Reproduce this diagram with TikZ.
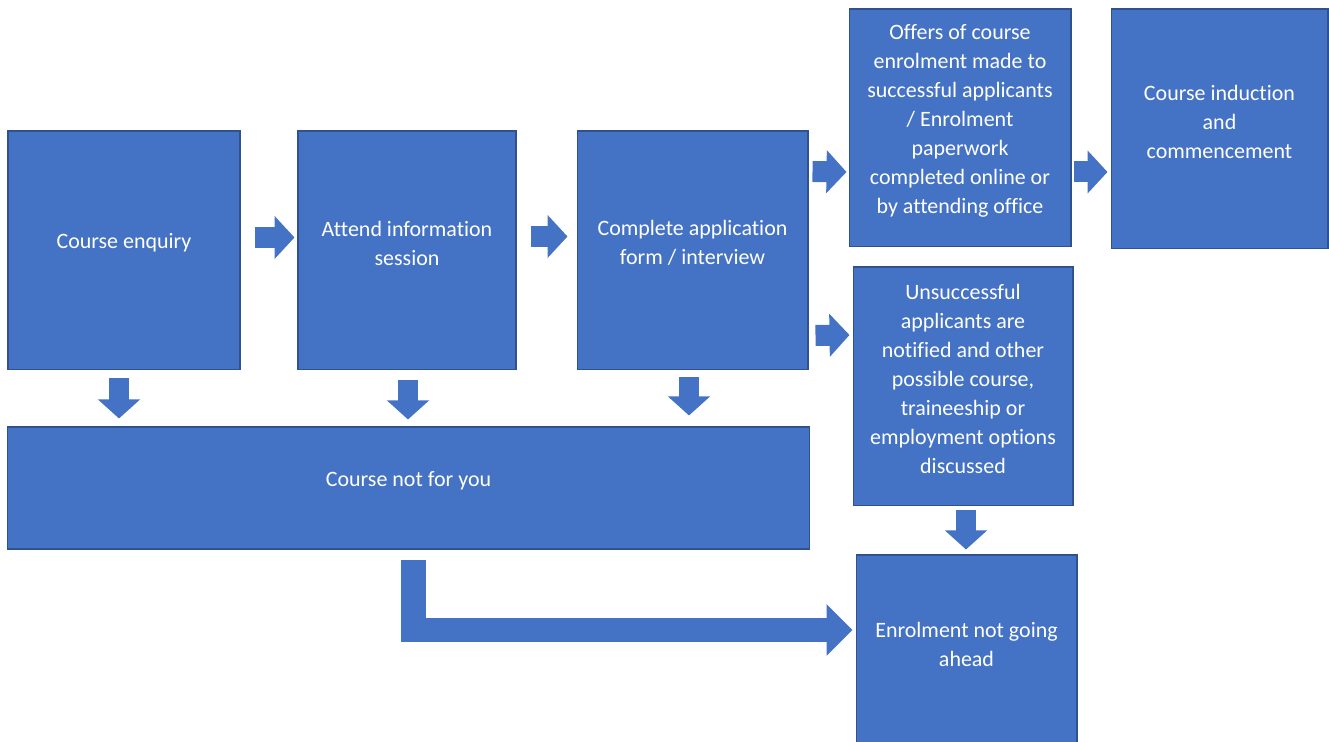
\documentclass[tikz,border=0pt]{standalone}
\usepackage{fontspec}
\setmainfont{Carlito}[Ligatures=CommonOff]
\usepackage{tikz}
\usetikzlibrary{arrows.meta,calc}
\definecolor{BoxBlue}{HTML}{4472C4}
\definecolor{BoxEdge}{HTML}{2F528F}

\begin{document}
\begin{tikzpicture}[x=0.02cm,y=-0.02cm,
    box/.style={rectangle,fill=BoxBlue,draw=BoxEdge,line width=0.6pt,inner sep=0pt},
    boxtext/.style={text=white,align=center,font=\fontsize{12.5}{16.5}\selectfont,yshift=0.15cm},
    rarrow/.style={draw=BoxBlue,line width=0.42cm,-{Triangle[width=0.84cm,length=0.4cm]}},
    darrow/.style={draw=BoxBlue,line width=0.4cm,-{Triangle[width=0.82cm,length=0.38cm]}},
    bigarrow/.style={draw=BoxBlue,line width=0.5cm,line join=miter,-{Triangle[width=1cm,length=0.52cm]}}]
    \useasboundingbox (0,0) rectangle (1329,742);
    \clip (0,0) rectangle (1329,742);

    \node[box,minimum width=4.64cm,minimum height=4.78cm,
        label={[boxtext]center:Course enquiry}] (enquiry) at (124,250.5) {};
    \node[box,minimum width=4.36cm,minimum height=4.78cm,
        label={[boxtext]center:Attend information\\session}] (info) at (407,250.5) {};
    \node[box,minimum width=4.62cm,minimum height=4.78cm,
        label={[boxtext]center:Complete application\\form / interview}] (apply) at (692.5,250.5) {};
    \node[box,minimum width=4.44cm,minimum height=4.76cm,
        label={[boxtext]center:Offers of course\\enrolment made to\\successful applicants\\/ Enrolment\\paperwork\\completed online or\\by attending office}] (offers) at (960,128) {};
    \node[box,minimum width=4.34cm,minimum height=4.8cm,
        label={[boxtext]center:Course induction\\and\\commencement}] (induction) at (1219.5,129) {};
    \node[box,minimum width=4.4cm,minimum height=4.78cm,
        label={[boxtext]center:Unsuccessful\\applicants are\\notified and other\\possible course,\\traineeship or\\employment options\\discussed}] (unsucc) at (963,386.5) {};
    \node[box,minimum width=16.06cm,minimum height=2.44cm,
        label={[boxtext]center:Course not for you}] (notforyou) at (408.5,488) {};
    \node[box,minimum width=4.42cm,minimum height=3.86cm,
        label={[boxtext]center:Enrolment not going\\ahead}] (notgoing) at (966.5,651.5) {};

    \draw[rarrow] ($(enquiry.east)+(14,-13)$) -- ($(info.west)+(-3,-13)$);
    \draw[rarrow] ($(info.east)+(14,-14)$) -- ($(apply.west)+(-9,-14)$);
    \draw[rarrow] ($(apply.north east)+(4,41)$) -- ($(offers.west)+(-2,44)$);
    \draw[rarrow] ($(offers.east)+(2,44)$) -- ($(induction.west)+(-3,43)$);
    \draw[rarrow] ($(apply.south east)+(7,-35)$) -- ($(unsucc.west)+(-3,-51.5)$);

    \draw[darrow] ($(enquiry.south)+(-5,8)$) -- ($(enquiry.south |- notforyou.north)+(-5,-8)$);
    \draw[darrow] ($(info.south)+(1,10)$) -- ($(info.south |- notforyou.north)+(1,-7)$);
    \draw[darrow] ($(apply.south)+(-3.5,7)$) -- ($(apply.south |- notforyou.north)+(-3.5,-11)$);
    \draw[darrow] ($(unsucc.south)+(3,4)$) -- ($(unsucc.south |- notgoing.north)+(3,-5)$);

    \draw[bigarrow] ($(notforyou.south)+(5,10)$) |- ($(notgoing.west)+(-3,-21.5)$);
\end{tikzpicture}
\end{document}
